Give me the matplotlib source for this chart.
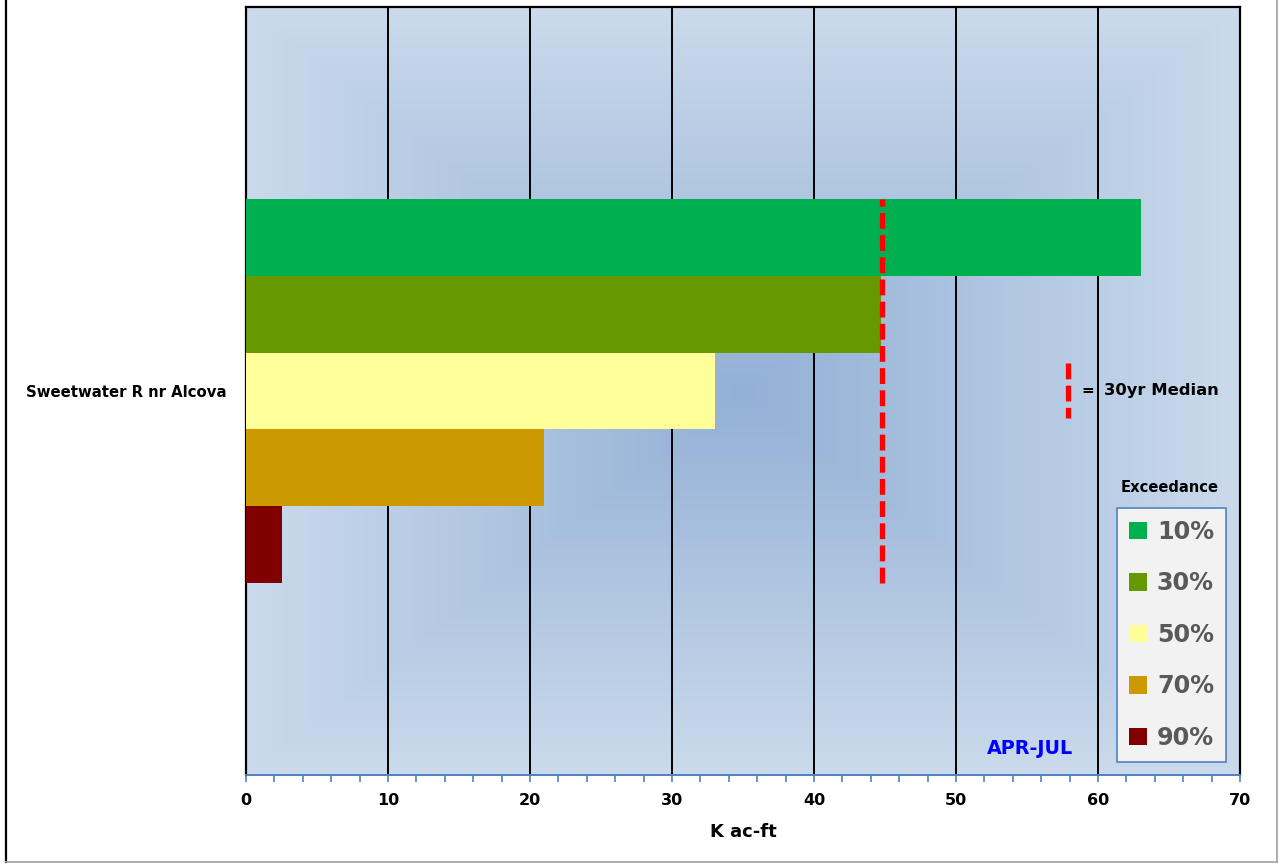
import numpy as np
import matplotlib
matplotlib.use("Agg")
import matplotlib.pyplot as plt
from matplotlib.lines import Line2D
from matplotlib.colors import to_rgb

# ---- data ----
station = "Sweetwater R nr Alcova"
exceedance_labels = ["10%", "30%", "50%", "70%", "90%"]
exceedance_values = [63.0, 44.7, 33.0, 21.0, 2.5]
bar_colors = ["#00b050", "#669900", "#ffff99", "#cc9900", "#800000"]
median_30yr = 44.8
season = "APR-JUL"
x_ticks = [0, 10, 20, 30, 40, 50, 60, 70]

plt.rcParams['font.family'] = ['DejaVu Sans']

W, H = 1282, 865
fig = plt.figure(figsize=(W / 100, H / 100), dpi=100)
fig.patch.set_facecolor("white")

ax = fig.add_axes([246 / W, 1 - 775 / H, (1240 - 246) / W, (775 - 7) / H])

# background gradient (darker centre, lighter edges)
nx, ny = 400, 300
u = np.linspace(-1, 1, nx)
v = np.linspace(-1, 1, ny)
U, V = np.meshgrid(u, v)
t = np.clip(np.maximum(np.abs(U), np.abs(V)), 0, 1)
c_in = np.array(to_rgb("#93b0d6"))
c_out = np.array(to_rgb("#cbdaec"))
img = c_in[None, None, :] * (1 - t[..., None]) + c_out[None, None, :] * t[..., None]
ax.imshow(img, extent=[0, 1, 0, 1], transform=ax.transAxes, aspect="auto", zorder=0,
          interpolation="bilinear")

# bars
n = len(exceedance_values)
bar_h = 0.2
offsets = [bar_h * (n - 1) / 2 - i * bar_h for i in range(n)]
handles = []
for off, val, col, lab in zip(offsets, exceedance_values, bar_colors, exceedance_labels):
    b = ax.barh(off, val, height=bar_h, color=col, edgecolor="none", zorder=3, label=lab)
    handles.append(b)

# median line
dash = (0, (3.0, 1.2))
ax.vlines(median_30yr, -bar_h * n / 2, bar_h * n / 2, colors="#ff0000", linewidth=3.8,
          linestyles=[dash], zorder=4)

ax.set_xlim(0, 70)
ax.set_ylim(-1, 1)
ax.set_xticks(x_ticks)
ax.set_xticklabels([str(x) for x in x_ticks], fontsize=11.5, fontweight="bold")
ax.set_xticks(np.arange(0, 71, 2), minor=True)
ax.tick_params(axis="x", which="both", direction="out", length=5, width=1.2,
               color="#4f81bd", pad=8)
ax.set_yticks([0])
ax.set_yticklabels([station], fontsize=10.7, fontweight="bold")
ax.tick_params(axis="y", length=0, pad=14)
ax.grid(axis="x", which="major", color="black", linewidth=1.4, zorder=1)
ax.set_axisbelow(True)
for s in ["top", "left", "right"]:
    ax.spines[s].set_color("black")
    ax.spines[s].set_linewidth(1.6)
ax.spines["bottom"].set_color("#4f81bd")
ax.spines["bottom"].set_linewidth(1.4)
ax.set_xlabel("K ac-ft", fontsize=13, fontweight="bold", labelpad=11)

# season label
ax.text(1030 / W, 1 - 749 / H, season, transform=fig.transFigure, color="#0000ff",
        fontsize=13.8, fontweight="bold", ha="center", va="center", zorder=6)

# median legend glyph
fig.add_artist(Line2D([1068 / W, 1068 / W], [1 - 363 / H, 1 - 418 / H], color="#ff0000",
                      linewidth=3.8, linestyle=dash, transform=fig.transFigure))
fig.text(1088 / W, 1 - 391 / H, "=", fontsize=11, fontweight="bold", ha="center", va="center")
fig.text(1104 / W, 1 - 391 / H, "30yr Median", fontsize=11.8, fontweight="bold",
         ha="left", va="center")

# exceedance legend
fig.text(1170 / W, 1 - 487 / H, "Exceedance", fontsize=10.6, fontweight="bold",
         ha="center", va="center")
leg = ax.legend(handles=handles, labels=exceedance_labels, loc="upper left",
                bbox_to_anchor=(1117 / W, 1 - 508 / H), bbox_transform=fig.transFigure,
                borderaxespad=0, prop={"weight": "bold", "size": 17.2},
                handlelength=0.75, handleheight=0.75, handletextpad=0.42,
                labelspacing=1.15, borderpad=0.5, fancybox=False, framealpha=1)
leg.get_frame().set_facecolor("#f2f2f2")
leg.get_frame().set_edgecolor("#5b8ac6")
leg.get_frame().set_linewidth(1.3)
for txt in leg.get_texts():
    txt.set_color("#595959")
leg.set_zorder(7)

# figure border
fig.add_artist(Line2D([6 / W, 6 / W], [1 - 862 / H, 1.0], color="black", linewidth=1.6,
                      transform=fig.transFigure))
fig.add_artist(Line2D([6 / W, 1277 / W], [1 - 862 / H, 1 - 862 / H], color="#a0a0a0",
                      linewidth=1.2, transform=fig.transFigure))
fig.add_artist(Line2D([1277 / W, 1277 / W], [1 - 862 / H, 1.0], color="#a0a0a0",
                      linewidth=1.2, transform=fig.transFigure))

fig.savefig("out.png", dpi=100, facecolor="white")
